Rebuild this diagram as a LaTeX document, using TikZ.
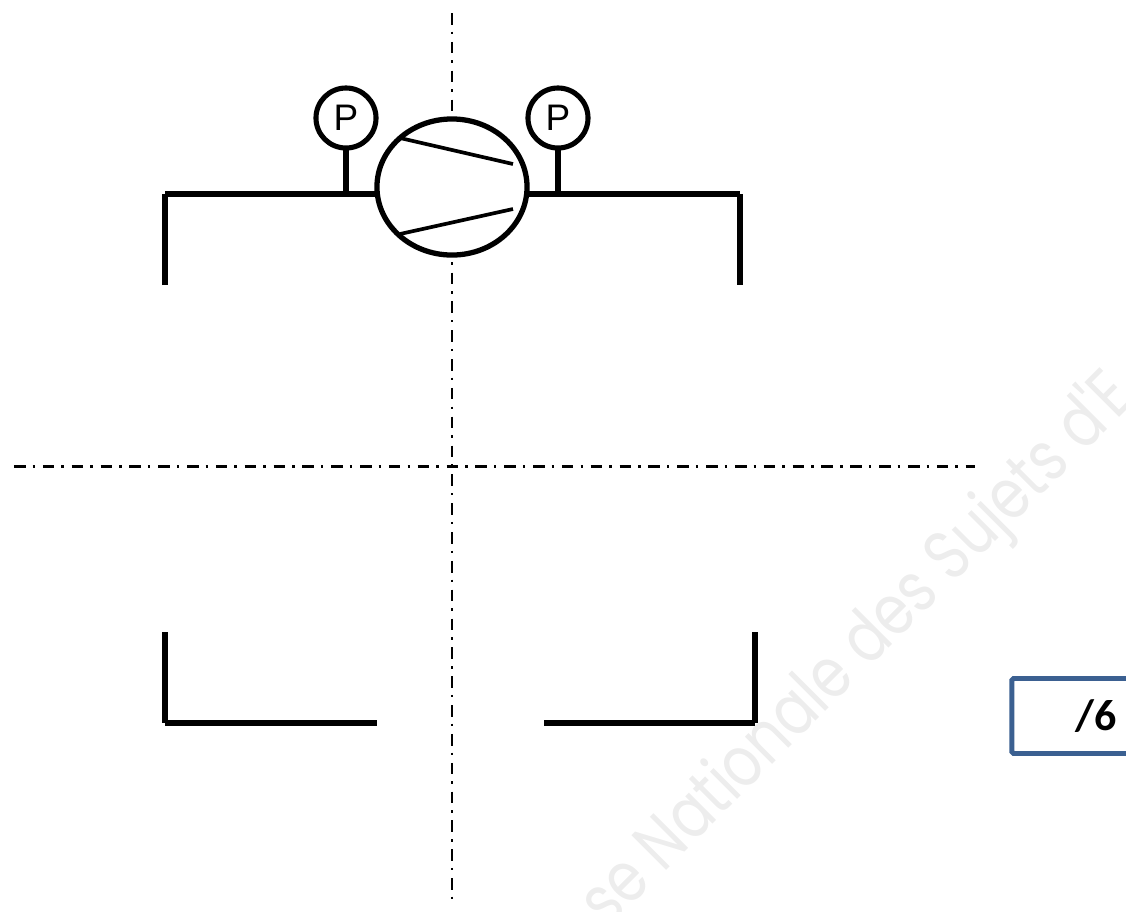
\documentclass[tikz,border=0pt]{standalone}
\usepackage{fontspec}
\setmainfont{Liberation Sans}
\newfontfamily\markfont{Poppins}
\newfontfamily\notefont{Carlito}
\usetikzlibrary{shapes.geometric}
\definecolor{boxblue}{RGB}{59,96,145}
\tikzstyle{pipe} = [line width=1.5pt]
\tikzstyle{axis} = [line width=0.85pt, dash pattern=on 3.3pt off 2pt on 0.7pt off 2.2pt]
\tikzstyle{gauge} = [draw, circle, line width=1.45pt, fill=white, minimum size=0.6cm, inner sep=0pt, outer sep=0pt, font=\fontsize{10.5}{11}\selectfont]
\tikzstyle{pump} = [draw, ellipse, line width=1.5pt, fill=white, minimum width=1.5cm, minimum height=1.36cm, inner sep=0pt, outer sep=0pt]
\tikzstyle{score} = [draw=boxblue, line width=1.4pt, rounded corners=0.5pt, minimum width=1.68cm, minimum height=0.75cm, font=\notefont\bfseries\fontsize{12.5}{13}\selectfont]

\begin{document}
\begin{tikzpicture}[x=0.01cm, y=-0.01cm]
	\useasboundingbox (0,0) rectangle (1126,911);
	\clip (0,0) rectangle (1126,911);
	% watermark
	\node (mark) [rotate=45, xscale=0.81, text=black!7, font=\markfont\fontsize{20}{21}\selectfont, anchor=base west] at (600,937) {se Nationale des Sujets d'E};
	% axes
	\coordinate (top) at (452,13);
	\coordinate (bottom) at (452,905);
	\coordinate (west) at (14,466);
	\coordinate (east) at (975,466);
	\draw[axis] (top) -- (bottom);
	\draw[axis] (west) -- (east);
	% upper pipes
	\node[pump] (comp) at (452,187) {};
	\node[gauge] (pleft) at (346,118) {P};
	\node[gauge] (pright) at (558,118) {P};
	\coordinate (ul) at (165,285);
	\coordinate (ulc) at (165,194);
	\coordinate (ulj) at (346,194);
	\coordinate (ule) at (377,194);
	\coordinate (ure) at (528,194);
	\coordinate (urj) at (558,194);
	\coordinate (urc) at (740,194);
	\coordinate (ur) at (740,285);
	\draw[pipe] (ul) -- (ulc);
	\draw[pipe] (ulc) -- (ule);
	\draw[pipe] (ure) -- (urc);
	\draw[pipe] (urc) -- (ur);
	\draw[pipe] (pleft) -- (ulj);
	\draw[pipe] (pright) -- (urj);
	% vanes
	\coordinate (va) at (400,138);
	\coordinate (vb) at (513,164);
	\coordinate (vc) at (400,234);
	\coordinate (vd) at (513,209);
	\draw[line width=1.05pt] (va) -- (vb);
	\draw[line width=1.05pt] (vc) -- (vd);
	% lower pipes
	\coordinate (ll) at (165,632);
	\coordinate (llc) at (165,723);
	\coordinate (lle) at (377,723);
	\coordinate (lre) at (544,723);
	\coordinate (lrc) at (755,723);
	\coordinate (lr) at (755,632);
	\draw[pipe] (ll) -- (llc);
	\draw[pipe] (llc) -- (lle);
	\draw[pipe] (lre) -- (lrc);
	\draw[pipe] (lrc) -- (lr);
	% mark box
	\node[score] (note) at (1096,716) {/6};
\end{tikzpicture}
\end{document}
